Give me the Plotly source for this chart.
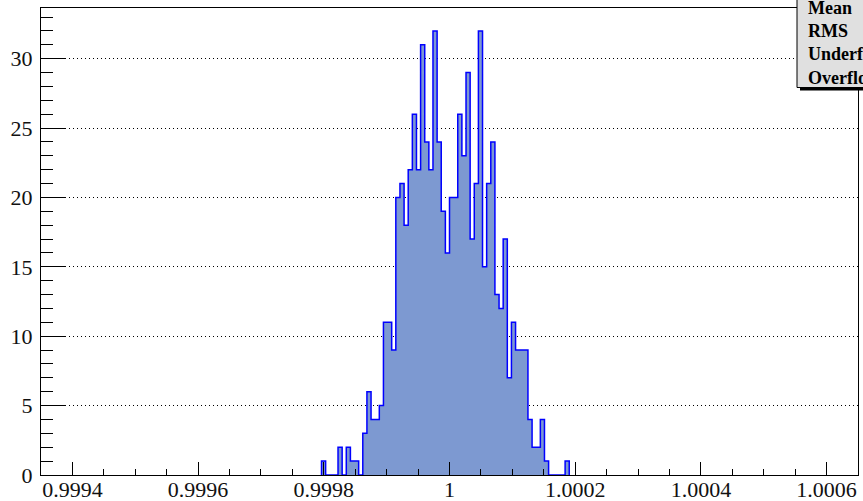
import plotly.graph_objects as go

# ---- data ----
bin_width = 6.57e-6          # width of one histogram bin
first_bin = -31              # index of first listed bin, counted from x = 1.0
counts = [1, 0, 0, 0, 2, 0, 2, 1, 1, 0,
          3, 6, 4, 4, 5, 11, 11, 9, 20, 21,
          18, 22, 26, 22, 31, 24, 22, 32, 24, 19,
          16, 20, 20, 26, 23, 29, 17, 21, 32, 15,
          21, 24, 13, 12, 17, 7, 11, 9, 9, 9,
          4, 2, 2, 4, 1, 0, 0, 0, 0, 1]
x_tick_vals = [0.9994, 0.9996, 0.9998, 1.0, 1.0002, 1.0004, 1.0006]
x_tick_text = ["0.9994", "0.9996", "0.9998", "1", "1.0002", "1.0004", "1.0006"]
y_tick_vals = [0, 5, 10, 15, 20, 25, 30]
stats_labels = ["Mean", "RMS", "Underflow", "Overflow"]

# ---- build step outline from bins ----
edges = [1.0 + (first_bin + i) * bin_width for i in range(len(counts) + 1)]
xs = [edges[0]] + edges
ys = [0] + counts + [0]

W, H = 863, 501
ml, mr, mt, mb = 41, 5, 8, 26
pw, ph = W - ml - mr, H - mt - mb

def px_x(p):
    return (p - ml) / pw

def px_y(p):
    return (H - mb - p) / ph

fig = go.Figure()
fig.add_trace(go.Scatter(
    x=xs, y=ys, mode="lines", line=dict(shape="hv", color="#0000ff", width=1.5),
    fill="tozeroy", fillcolor="#7d99d1", hoverinfo="skip", showlegend=False))

font = dict(family="Liberation Serif, Times New Roman, serif", size=22, color="#111111")

fig.update_layout(
    width=W, height=H, margin=dict(l=ml, r=mr, t=mt, b=mb, autoexpand=False),
    paper_bgcolor="white", plot_bgcolor="white", showlegend=False,
    xaxis=dict(range=[0.99935, 1.00065], tickmode="array", tickvals=x_tick_vals,
               ticktext=x_tick_text, ticks="inside", ticklen=13, tickwidth=1,
               tickcolor="black", showline=True, linecolor="black", linewidth=1,
               mirror=True, showgrid=False, zeroline=False, tickfont=font,
               automargin=False, ticklabelstandoff=-5,
               minor=dict(ticks="inside", ticklen=6, tickcolor="black",
                          tickmode="linear", tick0=0.9994, dtick=0.00005, showgrid=False)),
    yaxis=dict(range=[0, 33.65], tickmode="array", tickvals=y_tick_vals,
               ticks="inside", ticklen=24, tickwidth=1, tickcolor="black",
               showline=True, linecolor="black", linewidth=1, mirror=True,
               showgrid=True, gridcolor="black", griddash="1px,3px", gridwidth=1,
               zeroline=False, tickfont=font, automargin=False, ticklabelstandoff=3,
               minor=dict(ticks="inside", ticklen=12, tickcolor="black",
                          tickmode="linear", tick0=0, dtick=1, showgrid=False)),
)

# stats box (cut off at the right edge, as in the reference)
fig.add_shape(type="rect", xref="paper", yref="paper",
              x0=px_x(800), x1=px_x(W + 40), y0=px_y(90.5), y1=px_y(-20),
              fillcolor="black", line=dict(width=0), layer="above")
fig.add_shape(type="rect", xref="paper", yref="paper",
              x0=px_x(797), x1=px_x(W + 40), y0=px_y(87.5), y1=px_y(-20),
              fillcolor="#e0e0e0", line=dict(color="black", width=1), layer="above")
for lab, py in zip(stats_labels, [8, 31, 54, 77.5]):
    fig.add_annotation(text=lab, xref="paper", yref="paper", x=px_x(806), y=px_y(py),
                       xanchor="left", yanchor="middle", showarrow=False,
                       font=dict(family="Liberation Serif, Times New Roman, serif",
                                 size=18, color="black", weight="bold"))

fig.write_html("out.html", config={"displayModeBar": False},
               post_script="document.body.style.margin='0';document.body.style.overflow='hidden';")
